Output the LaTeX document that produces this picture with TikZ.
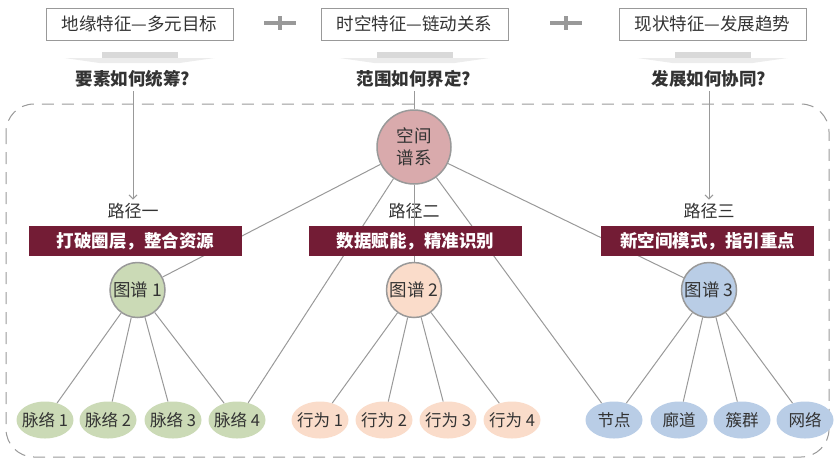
\documentclass[tikz,border=0pt]{standalone}
\usepackage{fontspec}
\setmainfont{Noto Sans CJK SC}
\usetikzlibrary{arrows.meta}
\usetikzlibrary{shapes.geometric}
\definecolor{txtgray}{HTML}{333333}
\definecolor{linegray}{HTML}{999999}
\definecolor{banner}{HTML}{731C35}
\definecolor{pinkfill}{HTML}{D9AAAC}
\definecolor{greenfill}{HTML}{CBDAB6}
\definecolor{peachfill}{HTML}{FADCCA}
\definecolor{bluefill}{HTML}{B9CDE6}
\tikzset{
  topbox/.style={draw=linegray, line width=1pt, text=txtgray, minimum width=187pt, minimum height=32pt, font=\fontsize{17.5}{19}\selectfont},
  question/.style={text=txtgray, font=\fontsize{17.5}{19}\selectfont\bfseries},
  pathlabel/.style={text=txtgray, font=\fontsize{17}{19}\selectfont},
  bannerbox/.style={fill=banner, text=white, minimum width=213pt, minimum height=30pt, inner sep=0pt, font=\fontsize{17.5}{19}\selectfont\bfseries},
  mapcircle/.style={circle, draw=linegray, line width=1.5pt, minimum size=55pt, inner sep=0pt, text=txtgray, font=\fontsize{17.5}{19}\selectfont},
  leaf/.style={ellipse, minimum width=57pt, minimum height=37pt, inner sep=-3pt, text=txtgray, font=\fontsize{16.5}{18}\selectfont},
  link/.style={draw=linegray, line width=1pt},
  downarrow/.style={draw=linegray, line width=1pt, -{Straight Barb[length=4pt,width=8pt]}}
}
\begin{document}
\begin{tikzpicture}[x=1pt,y=-1pt]
  \useasboundingbox (0,0) rectangle (834,459);

  % top boxes
  \node [topbox] (geo) at (139.5,24) {地缘特征—多元目标};
  \node [topbox] (time) at (414.5,24) {时空特征—链动关系};
  \node [topbox] (now) at (712.5,24) {现状特征—发展趋势};

  % plus signs
  \foreach \px in {280,566} {
    \fill [linegray] (\px-16,21) rectangle (\px+16,25);
    \fill [linegray] (\px-2,16) rectangle (\px+2,30);
  }

  % gray shadow arrows
  \foreach \px in {139.5,414.5,712.5} {
    \fill [gray!30] (\px-38,52) rectangle (\px+38,58);
    \fill [gray!15] (\px-75,58) -- (\px+75,58) -- (\px+40,63) -- (\px-40,63) -- cycle;
  }

  % questions
  \node [question] (q1) at (133,79) {要素如何统筹?};
  \node [question] (q2) at (414,79) {范围如何界定?};
  \node [question] (q3) at (709,79) {发展如何协同?};

  % dashed frame
  \draw [linegray, line width=1pt, dash pattern=on 12pt off 8pt, rounded corners=28pt] (6,104) rectangle (829,457);

  % centre
  \node [mapcircle, fill=pinkfill, minimum size=74pt, align=center, font=\fontsize{17.5}{22}\selectfont] (sp) at (414,147) {空间\\谱系};

  % paths
  \node [pathlabel] (p1) at (133,211) {路径一};
  \node [pathlabel] (p2) at (414,211) {路径二};
  \node [pathlabel] (p3) at (709,211) {路径三};

  % maps
  \node [mapcircle, fill=greenfill] (m1) at (137.5,290) {图谱 1};
  \node [mapcircle, fill=peachfill] (m2) at (414,290) {图谱 2};
  \node [mapcircle, fill=bluefill] (m3) at (709,290) {图谱 3};

  % leaves
  \node [leaf, fill=greenfill] (a1) at (45,420) {脉络 1};
  \node [leaf, fill=greenfill] (a2) at (108,420) {脉络 2};
  \node [leaf, fill=greenfill] (a3) at (173,420) {脉络 3};
  \node [leaf, fill=greenfill] (a4) at (237,420) {脉络 4};
  \node [leaf, fill=peachfill] (b1) at (320,420) {行为 1};
  \node [leaf, fill=peachfill] (b2) at (384,420) {行为 2};
  \node [leaf, fill=peachfill] (b3) at (448,420) {行为 3};
  \node [leaf, fill=peachfill] (b4) at (512,420) {行为 4};
  \node [leaf, fill=bluefill] (c1) at (614,420) {节点};
  \node [leaf, fill=bluefill] (c2) at (679,420) {廊道};
  \node [leaf, fill=bluefill] (c3) at (742,420) {簇群};
  \node [leaf, fill=bluefill] (c4) at (805,420) {网络};

  % arrows down
  \draw [downarrow] (q1) -- (p1);
  \draw [downarrow] (q3) -- (p3);
  \draw [link] (q2) -- (sp);

  % links from centre
  \draw [link] (sp) -- (m1);
  \draw [link] (sp) -- (a4);
  \draw [link] (sp) -- (m2);
  \draw [link] (sp) -- (c1);
  \draw [link] (sp) -- (m3);

  % links from maps
  \foreach \k in {1,...,4} {
    \draw [link] (m1) -- (a\k);
    \draw [link] (m2) -- (b\k);
    \draw [link] (m3) -- (c\k);
  }

  % banners on top of the links
  \node [bannerbox] (r1) at (135.5,241) {打破圈层，整合资源};
  \node [bannerbox] (r2) at (415.5,241) {数据赋能，精准识别};
  \node [bannerbox] (r3) at (707.5,241) {新空间模式，指引重点};
\end{tikzpicture}
\end{document}
